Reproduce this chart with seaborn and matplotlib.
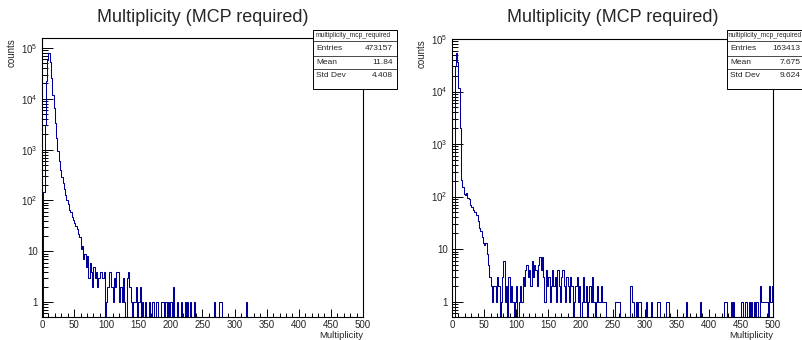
import numpy as np
import pandas as pd
import matplotlib
matplotlib.use("Agg")
import matplotlib.pyplot as plt
import seaborn as sns
from matplotlib.patches import Rectangle
from matplotlib.lines import Line2D
from matplotlib.ticker import FixedLocator, FixedFormatter, MultipleLocator, LogLocator, NullFormatter

# ---------------- data (bin width 2, range 0-500) ----------------
n_bins = 250
x_range = (0, 500)

left_head = [0, 150, 3000, 22000, 58000, 78000, 52000, 26000, 12000, 6500,
             3300, 1700, 950, 600, 400, 290, 220, 170, 130, 100,
             85, 66, 58, 47, 42, 36, 31, 27, 22, 19,
             11, 13, 7, 9, 5, 8, 3, 6, 4, 2,
             5, 3, 4, 2, 3, 4, 4, 3, 4, 0]
left_tail_x = [100, 102, 104, 106, 108, 110, 112, 114, 116, 118, 120, 122, 124, 126,
               128, 132, 134, 136, 138, 142, 144, 146, 150, 152, 156, 160, 166, 172,
               178, 186, 188, 192, 196, 200, 204, 210, 216, 222, 226, 230, 236, 268,
               276, 278, 318]
left_tail_n = [1, 2, 4, 4, 2, 1, 3, 2, 4, 4, 1, 2, 1, 3,
               1, 3, 4, 2, 1, 1, 1, 2, 1, 2, 1, 1, 1, 1,
               1, 1, 1, 1, 1, 1, 2, 1, 1, 1, 1, 1, 1, 1,
               1, 1, 1]

right_head = [0, 0, 30000, 55000, 37000, 11500, 2000, 210, 150, 110,
              105, 115, 95, 90, 70, 62, 55, 50, 52, 45,
              35, 25, 22, 17, 13, 12, 13, 8, 5, 3,
              2, 1, 2, 2, 1, 3, 2, 0, 1, 3,
              6, 1, 2, 0, 3, 1, 2, 1, 0, 1,
              2, 0, 1, 2, 1, 3, 2, 4, 5, 3,
              4, 2, 6, 3, 5, 4, 2, 5, 7, 4,
              7, 3, 1, 4, 2, 3, 1, 2, 4, 2,
              3, 1, 4, 2, 1, 3, 4, 2, 1, 3,
              2, 1, 3, 2, 0, 1, 2, 3, 1, 2,
              0, 1, 3, 1, 2, 0, 1, 2, 1, 3,
              1, 0, 1, 2, 1, 1, 2, 1, 1, 1]
right_tail_x = [254, 256, 258, 260, 278, 280, 282, 286, 290, 292, 302, 310, 320, 322,
                334, 336, 364, 386, 424, 426, 434, 438, 450, 452, 456, 458, 462, 466,
                470, 474, 480, 482, 484, 486, 488, 490, 494, 496, 498]
right_tail_n = [1, 1, 1, 1, 2, 1, 1, 1, 1, 1, 1, 1, 1, 1,
                1, 1, 1, 1, 1, 1, 1, 1, 1, 1, 1, 1, 1, 1,
                1, 1, 2, 1, 1, 1, 1, 1, 2, 1, 2]

titles = ["Multiplicity (MCP required)", "Multiplicity (MCP required)"]
stat_name = "multiplicity_mcp_required"
stat_labels = ["Entries", "Mean", "Std Dev"]
left_stats = ["473157", "11.84", "4.408"]
right_stats = ["163413", "7.675", "9.624"]
x_ticks = [0, 50, 100, 150, 200, 250, 300, 350, 400, 450, 500]
y_ticks = [1, 10, 100, 1000, 10000, 100000]
y_ticklabels = ["1", "10", "$10^{2}$", "$10^{3}$", "$10^{4}$", "$10^{5}$"]


def build(head, tail_x, tail_n):
    width = (x_range[1] - x_range[0]) / n_bins
    counts = np.zeros(n_bins)
    counts[:len(head)] = head
    for xv, n in zip(tail_x, tail_n):
        counts[int(xv // width)] = n
    centers = x_range[0] + width * (np.arange(n_bins) + 0.5)
    return pd.DataFrame({"Multiplicity": centers, "counts": counts})


df_left = build(left_head, left_tail_x, left_tail_n)
df_right = build(right_head, right_tail_x, right_tail_n)

# ---------------- style ----------------
sns.set_theme(style="white")
plt.rcParams["font.family"] = ["Liberation Sans", "DejaVu Sans"]
plt.rcParams["mathtext.fontset"] = "custom"
plt.rcParams["mathtext.rm"] = "Liberation Sans"
plt.rcParams["mathtext.it"] = "Liberation Sans:italic"
plt.rcParams["mathtext.bf"] = "Liberation Sans:bold"
plt.rcParams["axes.edgecolor"] = "black"

W, H = 803, 340
fig = plt.figure(figsize=(W / 100, H / 100), dpi=100)


def px_axes(x0, x1, y0, y1):
    return fig.add_axes([x0 / W, 1 - y1 / H, (x1 - x0) / W, (y1 - y0) / H])


def hline(xa, xb, y, lw=0.6):
    fig.add_artist(Line2D([xa / W, xb / W], [1 - y / H, 1 - y / H],
                          transform=fig.transFigure, color="black", linewidth=lw, zorder=6))


def draw_panel(df, ax_box, ylim, title, stats, box_x0, box_x1, text_right):
    x0, x1, y0, y1 = ax_box
    ax = px_axes(x0, x1, y0, y1)
    sns.histplot(data=df, x="Multiplicity", weights="counts", bins=n_bins,
                 binrange=x_range, element="step", fill=False, color="#000099",
                 linewidth=0.75, ax=ax)
    ax.set_yscale("log")
    ax.set_xlim(*x_range)
    ax.set_ylim(*ylim)
    ax.set_xlabel("")
    ax.set_ylabel("")
    for s in ax.spines.values():
        s.set_color("black")
        s.set_linewidth(0.8)
    ax.xaxis.set_major_locator(FixedLocator(x_ticks))
    ax.xaxis.set_minor_locator(MultipleLocator(10))
    ax.yaxis.set_major_locator(FixedLocator(y_ticks))
    ax.yaxis.set_major_formatter(FixedFormatter(y_ticklabels))
    ax.yaxis.set_minor_locator(LogLocator(base=10, subs=np.arange(2, 10)))
    ax.yaxis.set_minor_formatter(NullFormatter())
    ax.tick_params(axis="x", which="major", direction="in", length=5.8, width=0.7,
                   labelsize=7, pad=2.5, bottom=True, top=False, color="black")
    ax.tick_params(axis="x", which="minor", direction="in", length=2.9, width=0.7,
                   bottom=True, top=False, color="black")
    ax.tick_params(axis="y", which="major", direction="in", length=8, width=0.7,
                   labelsize=7, pad=3, left=True, right=False, color="black")
    ax.tick_params(axis="y", which="minor", direction="in", length=4, width=0.7,
                   left=True, right=False, color="black")

    cx = (x0 + x1) / 2
    fig.text(cx / W, 1 - 18 / H, title, ha="center", va="center", fontsize=13)
    fig.text((x0 - 30) / W, 1 - y0 / H, "counts", rotation=90, ha="center", va="top",
             fontsize=7)
    fig.text(x1 / W, 1 - 335 / H, "Multiplicity", ha="right", va="center", fontsize=6.8)

    # stats box
    bt, bb = 30, 88.5
    fig.add_artist(Rectangle((box_x0 / W, 1 - bb / H), (box_x1 - box_x0) / W, (bb - bt) / H,
                             transform=fig.transFigure, facecolor="white",
                             edgecolor="black", linewidth=0.7, zorder=5))
    for yy in (40.5, 55.8, 69.2):
        hline(box_x0, box_x1, yy, lw=0.5)
    fig.text((box_x0 + text_right) / 2 / W, 1 - 35.3 / H, stat_name, ha="center",
             va="center", fontsize=4.8, zorder=7)
    for lab, val, yy in zip(stat_labels, stats, [49, 62.3, 75.5]):
        fig.text((box_x0 + 3.5) / W, 1 - yy / H, lab, ha="left", va="center",
                 fontsize=6, zorder=7)
        fig.text(text_right / W, 1 - yy / H, val, ha="right", va="center",
                 fontsize=6, zorder=7)
    return ax


draw_panel(df_left, (42, 363, 38, 317), (0.51, 1.57e5), titles[0], left_stats,
           313, 397, 393)
draw_panel(df_right, (452, 773, 39, 317), (0.51, 1.0e5), titles[1], right_stats,
           727, 804, 800.5)

fig.savefig("out.png", dpi=100)
